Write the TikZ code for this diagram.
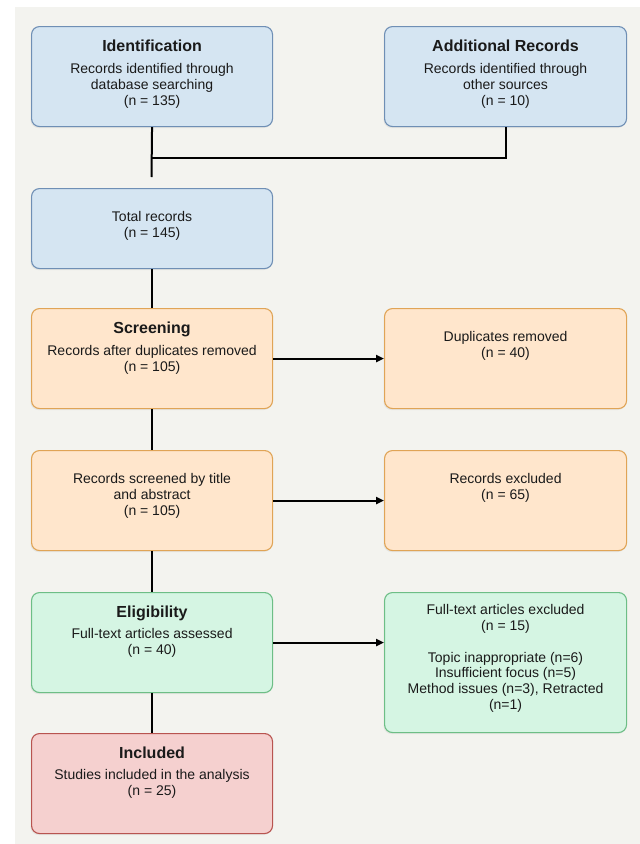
\documentclass[tikz,border=0pt]{standalone}
\usepackage{fontspec}
\setmainfont{Liberation Sans}
\usetikzlibrary{arrows.meta,shadows}
\definecolor{bgc}{HTML}{F3F3EF}
\definecolor{bluef}{HTML}{D5E5F2}
\definecolor{blued}{HTML}{6F8FB5}
\definecolor{orgf}{HTML}{FFE6CC}
\definecolor{orgd}{HTML}{E0A456}
\definecolor{grnf}{HTML}{D5F5E3}
\definecolor{grnd}{HTML}{6DBE86}
\definecolor{redf}{HTML}{F5D0CF}
\definecolor{redd}{HTML}{B85450}
\definecolor{txt}{HTML}{1A1A1A}
\tikzset{
  box/.style={rectangle, rounded corners=8pt, inner sep=0pt, line width=1.1pt,
    anchor=north west, minimum height=100pt,
    drop shadow={shadow xshift=-1pt, shadow yshift=-1.5pt, opacity=0.12}},
  lbox/.style={box, minimum width=241pt},
  rbox/.style={box, minimum width=242pt},
  bluebox/.style={fill=bluef, draw=blued},
  orgbox/.style={fill=orgf, draw=orgd},
  grnbox/.style={fill=grnf, draw=grnd},
  redbox/.style={fill=redf, draw=redd},
  ttl/.style={font=\fontsize{16}{16}\selectfont\bfseries, text=txt, inner sep=0pt, anchor=base},
  body/.style={font=\fontsize{14}{16}\selectfont, text=txt, inner sep=0pt, anchor=north, align=center},
  conn/.style={line width=2pt, black},
  arr/.style={conn, -{Triangle[length=8pt,width=7pt]}}
}
\begin{document}
\begin{tikzpicture}[x=1pt,y=-1pt]
\useasboundingbox (0,0) rectangle (640,844);
\fill[white] (0,0) rectangle (640,844);
\fill[bgc] (15,7) rectangle (640,844);

% boxes
\node[lbox,bluebox] (ident) at (31,26) {};
\node[rbox,bluebox] (addl) at (384,26) {};
\node[lbox,bluebox,minimum height=80pt] (total) at (31,188) {};
\node[lbox,orgbox] (screen) at (31,308) {};
\node[rbox,orgbox] (dup) at (384,308) {};
\node[lbox,orgbox] (screened) at (31,450) {};
\node[rbox,orgbox] (excl) at (384,450) {};
\node[lbox,grnbox] (elig) at (31,592) {};
\node[rbox,grnbox,minimum height=140pt] (ftex) at (384,592) {};
\node[lbox,redbox] (incl) at (31,733) {};

% texts
\node[ttl] (identT) at ([yshift=-25.8pt]ident.north) {Identification};
\node[body] (identB) at ([yshift=-35.8pt]ident.north) {\strut Records identified through\\database searching\\(n = 135)};
\node[ttl] (addlT) at ([yshift=-25.8pt]addl.north) {Additional Records};
\node[body] (addlB) at ([yshift=-35.8pt]addl.north) {\strut Records identified through\\other sources\\(n = 10)};
\node[body] (totalB) at ([yshift=-21.8pt]total.north) {\strut Total records\\(n = 145)};
\node[ttl] (screenT) at ([yshift=-25.8pt]screen.north) {Screening};
\node[body] (screenB) at ([yshift=-35.8pt]screen.north) {\strut Records after duplicates removed\\(n = 105)};
\node[body] (dupB) at ([yshift=-21.8pt]dup.north) {\strut Duplicates removed\\(n = 40)};
\node[body] (screenedB) at ([yshift=-21.8pt]screened.north) {\strut Records screened by title\\and abstract\\(n = 105)};
\node[body] (exclB) at ([yshift=-21.8pt]excl.north) {\strut Records excluded\\(n = 65)};
\node[ttl] (eligT) at ([yshift=-25.8pt]elig.north) {Eligibility};
\node[body] (eligB) at ([yshift=-35.3pt]elig.north) {\strut Full-text articles assessed\\(n = 40)};
\node[body,font=\fontsize{14}{15.8}\selectfont] (ftexB) at ([yshift=-11.5pt]ftex.north) {\strut Full-text articles excluded\\(n = 15)\\[15.8pt]Topic inappropriate (n=6)\\Insufficient focus (n=5)\\Method issues (n=3), Retracted\\(n=1)};
\node[ttl] (inclT) at ([yshift=-25.8pt]incl.north) {Included};
\node[body] (inclB) at ([yshift=-35pt]incl.north) {\strut Studies included in the analysis\\(n = 25)};

% connectors
\coordinate (jend) at (151.5,177);
\coordinate (jmid) at (151.5,158);
\draw[conn] (ident.south) -- (jend);
\draw[conn] (addl.south) |- (jmid);
\draw[conn] (total.south) -- (screen.north);
\draw[conn] (screen.south) -- (screened.north);
\draw[conn] (screened.south) -- (elig.north);
\draw[conn] (elig.south) -- (incl.north);
\draw[arr] (screen.east) -- (dup.west);
\draw[arr] (screened.east) -- (excl.west);
\draw[arr] (elig.east) -- (elig.east -| ftex.west);
\end{tikzpicture}
\end{document}
